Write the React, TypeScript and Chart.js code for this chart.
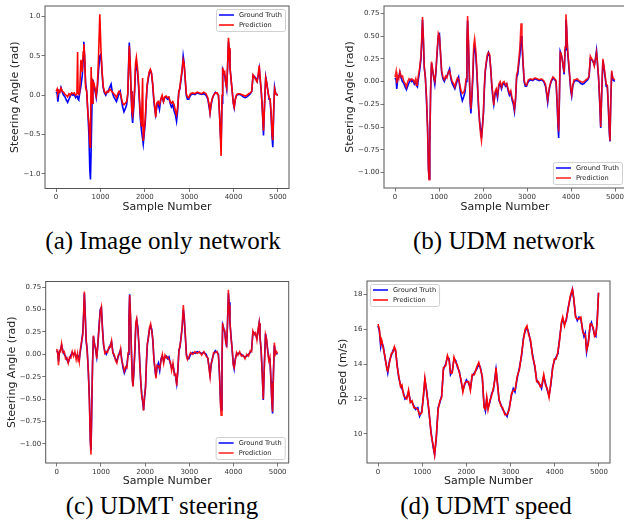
import React, { useEffect, useRef } from "react";
import { Chart, registerables } from "chart.js";

Chart.register(...registerables);

// ---------- data ----------
const X_TICKS = [0, 1000, 2000, 3000, 4000, 5000];
const X_LABELS = ["0", "1000", "2000", "3000", "4000", "5000"];
const STEER_TICKS_A = [-1.0, -0.5, 0.0, 0.5, 1.0];
const STEER_LABELS_A = ["\u22121.0", "\u22120.5", "0.0", "0.5", "1.0"];
const STEER_TICKS_BC = [-1.0, -0.75, -0.5, -0.25, 0.0, 0.25, 0.5, 0.75];
const STEER_LABELS_BC = ["\u22121.00", "\u22120.75", "\u22120.50", "\u22120.25", "0.00", "0.25", "0.50", "0.75"];
const SPEED_TICKS = [10, 12, 14, 16, 18];
const SPEED_LABELS = ["10", "12", "14", "16", "18"];

const STEER_X = [
  0, 25, 40, 60, 85, 110, 140, 170, 200, 230,
  260, 290, 320, 350, 380, 410, 440, 470, 485, 495,
  510, 530, 560, 590, 610, 625, 645, 665, 690, 715,
  740, 760, 775, 790, 810, 830, 855, 880, 905, 930,
  955, 985, 1010, 1035, 1060, 1090, 1120, 1150, 1180, 1210,
  1240, 1270, 1300, 1330, 1360, 1390, 1420, 1445, 1470, 1500,
  1530, 1560, 1590, 1615, 1635, 1650, 1670, 1690, 1710, 1725,
  1745, 1770, 1790, 1810, 1835, 1860, 1880, 1900, 1925, 1950,
  1965, 1985, 2010, 2030, 2050, 2075, 2100, 2125, 2150, 2175,
  2200, 2225, 2245, 2270, 2300, 2330, 2360, 2390, 2420, 2450,
  2480, 2510, 2540, 2570, 2600, 2630, 2660, 2690, 2715, 2740,
  2765, 2790, 2815, 2840, 2865, 2885, 2910, 2935, 2960, 2990,
  3030, 3080, 3130, 3180, 3230, 3280, 3330, 3380, 3420, 3450,
  3470, 3495, 3520, 3550, 3590, 3630, 3660, 3685, 3705, 3720,
  3740, 3755, 3775, 3800, 3825, 3845, 3865, 3885, 3900, 3920,
  3945, 3970, 3995, 4015, 4040, 4070, 4100, 4140, 4180, 4220,
  4260, 4300, 4340, 4380, 4410, 4440, 4470, 4500, 4530, 4555,
  4580, 4600, 4625, 4650, 4675, 4700, 4725, 4750, 4775, 4800,
  4825, 4850, 4870, 4885, 4905, 4925, 4950, 4975, 4995,
];

const STEER_GT = [
  0.04, 0.02, -0.08, 0.02, 0.05, 0.10, 0.04, 0.00, -0.02, -0.06,
  -0.09, -0.05, -0.01, 0.02, 0.00, 0.01, -0.03, -0.01, -0.02, -0.05,
  -0.06, 0.02, 0.12, 0.25, 0.45, 0.68, 0.45, 0.15, 0.05, -0.20,
  -0.50, -0.95, -1.07, -0.70, -0.10, 0.20, 0.12, 0.05, -0.03, 0.10,
  0.30, 0.50, 0.52, 0.30, 0.10, 0.03, 0.00, 0.04, 0.06, 0.10,
  0.14, 0.03, -0.02, -0.05, -0.08, -0.03, 0.02, 0.05, -0.05, -0.15,
  -0.21, -0.17, -0.12, 0.00, 0.40, 0.67, 0.40, 0.05, -0.25, -0.35,
  -0.20, 0.05, 0.33, 0.38, 0.30, 0.10, -0.10, -0.30, -0.45, -0.55,
  -0.62, -0.50, -0.35, -0.10, 0.10, 0.20, 0.28, 0.32, 0.28, 0.15,
  -0.05, -0.18, -0.25, -0.15, -0.10, -0.18, -0.05, -0.02, -0.08, -0.03,
  -0.02, -0.05, -0.03, -0.10, -0.15, -0.12, -0.20, -0.25, -0.33, -0.20,
  0.05, 0.08, 0.20, 0.30, 0.50, 0.42, 0.20, 0.00, -0.05, -0.05,
  0.00, 0.02, 0.01, 0.03, 0.02, 0.01, 0.02, 0.00, -0.05, -0.15,
  -0.23, -0.12, -0.05, 0.00, 0.04, 0.02, 0.00, -0.25, -0.50, -0.62,
  -0.10, 0.33, 0.30, 0.25, 0.15, 0.08, 0.35, 0.68, 0.58, 0.35,
  0.20, 0.05, -0.10, -0.16, -0.05, 0.00, 0.01, 0.01, 0.00, -0.02,
  -0.03, -0.02, 0.00, 0.02, 0.05, 0.25, 0.24, 0.22, 0.18, 0.25,
  0.34, 0.20, 0.05, -0.20, -0.51, -0.10, 0.23, 0.15, 0.05, -0.05,
  -0.05, -0.30, -0.55, -0.66, -0.20, 0.10, 0.02, 0.01, 0.00,
];

const STEER_PRED_A = [
  0.05, 0.08, 0.02, 0.06, 0.04, 0.09, 0.05, 0.04, 0.01, 0.00,
  -0.02, 0.02, 0.00, 0.03, 0.02, 0.03, 0.00, 0.02, 0.55, 0.03,
  0.02, 0.03, 0.45, 0.30, 0.55, 0.65, 0.50, 0.10, 0.05, -0.22,
  -0.35, -0.60, -0.67, 0.36, -0.10, 0.18, 0.15, 0.08, 0.00, 0.12,
  0.45, 1.03, 0.60, 0.32, 0.12, 0.05, 0.02, 0.05, 0.04, 0.08,
  0.06, 0.04, 0.02, 0.00, -0.03, 0.02, 0.05, 0.03, -0.03, -0.10,
  -0.12, -0.10, -0.08, 0.02, 0.35, 0.63, 0.42, 0.05, -0.20, -0.25,
  -0.15, 0.08, 0.40, 0.48, 0.35, 0.15, -0.05, -0.25, -0.40, 0.22,
  -0.58, -0.45, -0.30, -0.08, 0.12, 0.22, 0.30, 0.33, 0.28, 0.16,
  -0.02, -0.15, -0.28, -0.10, -0.08, -0.12, -0.05, 0.00, -0.08, -0.02,
  -0.01, -0.03, -0.02, -0.08, -0.10, -0.08, -0.12, -0.20, -0.25, -0.15,
  0.03, 0.10, 0.22, 0.32, 0.45, 0.40, 0.22, 0.02, -0.02, -0.03,
  0.02, 0.03, 0.02, 0.04, 0.03, 0.02, 0.04, 0.02, -0.03, -0.12,
  -0.22, -0.10, -0.04, 0.00, 0.03, 0.03, 0.00, -0.25, -0.55, -0.77,
  0.00, 0.35, 0.28, 0.30, 0.15, 0.10, 0.35, 0.73, 0.60, 0.35,
  0.20, 0.05, -0.10, -0.15, -0.05, 0.01, 0.02, 0.02, 0.01, 0.00,
  -0.01, 0.00, 0.02, 0.03, 0.05, 0.26, 0.23, 0.20, 0.17, 0.26,
  0.38, 0.22, 0.05, -0.18, -0.45, -0.10, 0.22, 0.15, 0.05, -0.03,
  -0.05, -0.25, -0.50, -0.57, -0.18, 0.08, 0.02, 0.01, 0.00,
];

const STEER_PRED_B = [
  0.05, 0.11, -0.02, 0.06, 0.03, 0.11, 0.05, 0.06, 0.00, -0.02,
  -0.06, 0.00, 0.03, 0.01, 0.03, 0.02, -0.01, 0.03, -0.04, 0.00,
  -0.02, 0.06, 0.15, 0.28, 0.50, 0.71, 0.48, 0.17, 0.04, -0.16,
  -0.52, -0.97, -1.08, -0.72, -0.08, 0.22, 0.14, 0.04, 0.00, 0.12,
  0.32, 0.53, 0.50, 0.31, 0.12, 0.05, 0.02, 0.06, 0.04, 0.10,
  0.12, 0.05, 0.00, -0.02, -0.06, 0.00, 0.04, 0.03, -0.03, -0.10,
  -0.13, -0.12, -0.08, 0.03, 0.45, 0.72, 0.45, 0.08, -0.22, -0.30,
  -0.15, 0.10, 0.40, 0.47, 0.35, 0.14, -0.08, -0.27, -0.47, -0.60,
  -0.65, -0.52, -0.33, -0.06, 0.12, 0.22, 0.30, 0.32, 0.30, 0.14,
  -0.03, -0.15, -0.26, -0.12, -0.08, -0.15, -0.03, 0.00, -0.06, -0.01,
  0.00, -0.04, -0.02, -0.08, -0.13, -0.10, -0.18, -0.22, -0.30, -0.18,
  0.08, 0.12, 0.25, 0.38, 0.64, 0.48, 0.22, 0.02, -0.03, -0.04,
  0.02, 0.03, 0.02, 0.04, 0.03, 0.02, 0.03, 0.01, -0.03, -0.13,
  -0.20, -0.10, -0.04, 0.01, 0.05, 0.03, 0.01, -0.22, -0.45, -0.55,
  -0.08, 0.32, 0.31, 0.24, 0.16, 0.10, 0.38, 0.74, 0.62, 0.38,
  0.22, 0.07, -0.08, -0.14, -0.04, 0.02, 0.02, 0.03, 0.01, 0.00,
  -0.01, 0.00, 0.02, 0.03, 0.06, 0.28, 0.25, 0.23, 0.17, 0.24,
  0.32, 0.22, 0.06, -0.18, -0.50, -0.08, 0.25, 0.17, 0.07, -0.03,
  -0.04, -0.28, -0.52, -0.65, -0.18, 0.12, 0.04, 0.03, 0.02,
];

const STEER_PRED_C = [
  0.06, 0.00, -0.12, 0.04, 0.03, 0.12, 0.02, 0.03, -0.05, -0.04,
  -0.10, -0.03, -0.04, 0.03, -0.02, 0.03, -0.06, 0.01, -0.08, -0.03,
  -0.08, 0.04, 0.14, 0.22, 0.48, 0.70, 0.42, 0.18, 0.02, -0.18,
  -0.55, -0.98, -1.12, -0.65, -0.12, 0.21, 0.10, 0.07, -0.05, 0.12,
  0.28, 0.48, 0.53, 0.27, 0.12, 0.01, 0.03, 0.02, 0.08, 0.08,
  0.15, 0.01, 0.00, -0.07, -0.10, -0.01, 0.00, 0.06, -0.07, -0.12,
  -0.19, -0.14, -0.15, 0.02, 0.38, 0.66, 0.43, 0.02, -0.28, -0.36,
  -0.18, 0.08, 0.36, 0.40, 0.27, 0.12, -0.12, -0.28, -0.48, -0.52,
  -0.63, -0.47, -0.38, -0.07, 0.12, 0.18, 0.30, 0.34, 0.26, 0.17,
  -0.07, -0.16, -0.27, -0.12, -0.13, -0.16, -0.07, 0.00, -0.10, -0.01,
  -0.04, -0.03, -0.06, -0.08, -0.18, -0.10, -0.23, -0.22, -0.35, -0.17,
  0.03, 0.10, 0.18, 0.33, 0.55, 0.40, 0.23, -0.02, -0.06, -0.03,
  0.02, 0.00, 0.03, 0.01, 0.03, -0.01, 0.03, -0.02, -0.04, -0.17,
  -0.25, -0.10, -0.07, 0.02, 0.02, 0.03, -0.02, -0.22, -0.55, -0.68,
  -0.05, 0.35, 0.28, 0.27, 0.13, 0.10, 0.33, 0.72, 0.55, 0.37,
  0.18, 0.07, -0.12, -0.15, -0.07, 0.02, -0.01, 0.03, -0.02, -0.01,
  -0.05, 0.00, -0.02, 0.04, 0.03, 0.26, 0.22, 0.24, 0.16, 0.27,
  0.35, 0.18, 0.07, -0.22, -0.50, -0.12, 0.22, 0.17, 0.03, -0.07,
  -0.03, -0.32, -0.53, -0.64, -0.22, 0.13, 0.00, 0.03, 0.01,
];

const SPEED_X = [
  0, 30, 60, 80, 120, 160, 200, 220, 260, 300,
  340, 370, 400, 430, 470, 510, 540, 580, 610, 650,
  690, 730, 770, 810, 850, 900, 940, 990, 1030, 1060,
  1100, 1150, 1200, 1250, 1280, 1320, 1360, 1400, 1440, 1480,
  1530, 1570, 1610, 1640, 1680, 1720, 1760, 1800, 1840, 1880,
  1920, 1960, 2000, 2050, 2090, 2130, 2180, 2230, 2280, 2320,
  2360, 2400, 2430, 2460, 2490, 2530, 2570, 2610, 2650, 2670,
  2700, 2740, 2780, 2820, 2870, 2920, 2970, 3020, 3060, 3100,
  3150, 3200, 3250, 3290, 3330, 3370, 3410, 3450, 3500, 3550,
  3590, 3630, 3670, 3700, 3750, 3790, 3830, 3870, 3910, 3950,
  3990, 4030, 4070, 4110, 4150, 4180, 4220, 4260, 4300, 4350,
  4400, 4430, 4470, 4510, 4550, 4590, 4630, 4660, 4690, 4720,
  4760, 4800, 4830, 4870, 4900, 4930, 4960, 4990,
];

const SPEED_GT = [
  16.2, 15.9, 15.0, 15.3, 15.0, 14.3, 13.8, 13.5, 14.2, 14.5,
  14.8, 14.9, 14.7, 14.0, 13.2, 12.8, 12.6, 12.3, 12.0, 12.1,
  12.4, 11.9, 11.8, 11.6, 11.4, 11.5, 11.0, 11.3, 12.2, 13.1,
  12.5, 11.3, 10.1, 9.2, 8.8, 9.8, 11.5, 11.8, 12.2, 13.7,
  14.0, 14.4, 14.3, 13.4, 13.6, 14.3, 14.2, 13.8, 13.6, 13.0,
  12.5, 12.8, 13.1, 12.9, 12.6, 13.3, 13.5, 13.7, 14.0, 13.8,
  13.2, 11.6, 11.3, 12.0, 11.5, 11.8, 12.3, 12.5, 13.3, 13.7,
  13.0, 11.9, 11.7, 11.4, 11.2, 11.0, 11.5, 12.2, 12.6, 12.4,
  13.2, 13.8, 14.5, 15.5, 15.9, 16.1, 15.8, 15.3, 14.5, 13.8,
  13.1, 12.9, 12.8, 12.6, 13.3, 12.9, 12.5, 12.2, 12.8, 13.8,
  14.2, 14.4, 14.6, 15.5, 16.3, 16.6, 16.3, 16.5, 17.2, 17.8,
  18.3, 17.7, 16.8, 16.5, 16.7, 16.6, 16.0, 15.6, 15.8, 14.7,
  15.3, 16.2, 16.4, 16.0, 15.7, 15.6, 16.5, 18.1,
];

const SPEED_PRED = [
  16.3, 16.0, 15.2, 15.4, 14.9, 14.4, 13.7, 13.6, 14.1, 14.6,
  14.7, 15.0, 14.8, 13.9, 13.3, 12.7, 12.8, 12.2, 12.1, 12.0,
  12.5, 11.8, 11.9, 11.5, 11.5, 11.4, 11.1, 11.2, 12.3, 13.2,
  12.4, 11.4, 10.0, 9.3, 8.8, 9.9, 11.4, 11.9, 12.1, 13.8,
  13.9, 14.5, 14.2, 13.5, 13.5, 14.4, 14.1, 13.9, 13.5, 13.1,
  12.4, 12.9, 13.0, 13.0, 12.5, 13.4, 13.4, 13.8, 14.1, 13.7,
  13.3, 11.5, 11.4, 12.1, 11.4, 11.9, 12.2, 12.6, 13.2, 13.8,
  12.9, 12.0, 11.6, 11.5, 11.1, 11.1, 11.4, 12.3, 12.5, 12.5,
  13.3, 13.7, 14.6, 15.4, 16.0, 16.2, 15.7, 15.4, 14.4, 13.9,
  13.0, 13.0, 12.7, 12.7, 13.4, 12.8, 12.6, 12.1, 12.9, 13.7,
  14.3, 14.3, 14.7, 15.4, 16.4, 16.7, 16.2, 16.6, 17.1, 17.9,
  18.3, 17.8, 16.7, 16.6, 16.6, 16.7, 15.9, 15.7, 15.7, 14.8,
  15.2, 16.3, 16.3, 16.1, 15.6, 15.7, 16.4, 18.1,
];

// ---------- style ----------
const SANS = '"DejaVu Sans", sans-serif';
const SERIF = '"Liberation Serif", "Times New Roman", serif';
const AXIS_COLOR = "#555";
const TEXT_COLOR = "#222";

const framePlugin = {
  id: "mplFrame",
  afterDatasetsDraw(chart: any) {
    const { ctx, chartArea: a } = chart;
    ctx.save();
    ctx.strokeStyle = AXIS_COLOR;
    ctx.lineWidth = 1;
    ctx.strokeRect(a.left, a.top, a.right - a.left, a.bottom - a.top);
    ctx.restore();
  },
};

const legendPlugin = {
  id: "mplLegend",
  afterDraw(chart: any, _args: any, opts: any) {
    const { ctx, chartArea: a } = chart;
    const fontPx = 6.6;
    ctx.save();
    ctx.font = `${fontPx}px ${SANS}`;
    const labels = chart.data.datasets.map((d: any) => d.label as string);
    const textW = Math.max(...labels.map((l: string) => ctx.measureText(l).width));
    const padX = 2.5;
    const handle = 15;
    const gap = 5;
    const w = padX + handle + gap + textW + padX + 1;
    const h = 22;
    const m = 3.5;
    let x = a.right - m - w;
    let y = a.top + m;
    if (opts.corner === "lr") { x = a.right - m - w; y = a.bottom - m - h; }
    if (opts.corner === "ul") { x = a.left + m; y = a.top + m; }
    ctx.beginPath();
    (ctx as any).roundRect(x, y, w, h, 2);
    ctx.fillStyle = "rgba(255,255,255,0.85)";
    ctx.fill();
    ctx.strokeStyle = "#d0d0d0";
    ctx.lineWidth = 1;
    ctx.stroke();
    chart.data.datasets.forEach((d: any, i: number) => {
      const ry = y + 5.5 + i * 10;
      ctx.beginPath();
      ctx.strokeStyle = d.borderColor;
      ctx.lineWidth = 1.5;
      ctx.moveTo(x + padX, ry);
      ctx.lineTo(x + padX + handle, ry);
      ctx.stroke();
      ctx.fillStyle = TEXT_COLOR;
      ctx.textBaseline = "middle";
      ctx.textAlign = "left";
      ctx.fillText(d.label, x + padX + handle + gap, ry);
    });
    ctx.restore();
  },
};

type PanelProps = {
  left: number; top: number; width: number; height: number;
  area: { l: number; t: number; r: number; b: number };
  yMin: number; yMax: number; yTicks: number[]; yLabels: string[];
  yTitle: string; yTitlePad: number; xTitlePad: number;
  xs: number[]; gt: number[]; pred: number[];
  predColor: string; corner: string;
};

function Panel(p: PanelProps) {
  const ref = useRef<HTMLCanvasElement | null>(null);
  useEffect(() => {
    if (!ref.current) return;
    const tickFont = { family: SANS, size: 7 };
    const titleFont = { family: SANS, size: 11 };
    const chart = new Chart(ref.current, {
      type: "line",
      data: {
        datasets: [
          {
            label: "Ground Truth",
            data: p.xs.map((x, i) => ({ x, y: p.gt[i] })),
            borderColor: "#0000ff",
            borderWidth: 1.6,
            pointRadius: 0,
            tension: 0,
            order: 2,
          },
          {
            label: "Prediction",
            data: p.xs.map((x, i) => ({ x, y: p.pred[i] })),
            borderColor: p.predColor,
            borderWidth: 1.6,
            pointRadius: 0,
            tension: 0,
            order: 1,
          },
        ],
      },
      options: {
        animation: false,
        responsive: false,
        maintainAspectRatio: false,
        events: [],
        layout: { padding: { left: 0, top: p.area.t, right: p.width - p.area.r, bottom: 0 } },
        plugins: {
          legend: { display: false },
          tooltip: { enabled: false },
          mplLegend: { corner: p.corner },
        } as any,
        scales: {
          x: {
            type: "linear",
            min: -250,
            max: 5250,
            afterBuildTicks: (s: any) => { s.ticks = X_TICKS.map((v) => ({ value: v })); },
            afterFit: (s: any) => { s.height = p.height - p.area.b; },
            ticks: {
              autoSkip: false, maxRotation: 0, padding: 1,
              font: tickFont, color: "#333",
              callback: (_v: any, i: number) => X_LABELS[i],
            },
            grid: { display: true, drawOnChartArea: false, drawTicks: true, tickLength: 3.5, color: AXIS_COLOR, lineWidth: 0.8 },
            border: { display: false },
            title: { display: true, text: "Sample Number", font: titleFont, color: TEXT_COLOR, padding: { top: 0, bottom: p.xTitlePad } },
          },
          y: {
            type: "linear",
            position: "left",
            min: p.yMin,
            max: p.yMax,
            afterBuildTicks: (s: any) => { s.ticks = p.yTicks.map((v) => ({ value: v })); },
            afterFit: (s: any) => { s.width = p.area.l; },
            ticks: {
              autoSkip: false, padding: 1,
              font: tickFont, color: "#333",
              callback: (_v: any, i: number) => p.yLabels[i],
            },
            grid: { display: true, drawOnChartArea: false, drawTicks: true, tickLength: 3.5, color: AXIS_COLOR, lineWidth: 0.8 },
            border: { display: false },
            title: { display: true, text: p.yTitle, font: titleFont, color: TEXT_COLOR, padding: { top: p.yTitlePad, bottom: 0 } },
          },
        },
      } as any,
      plugins: [framePlugin, legendPlugin],
    });
    return () => chart.destroy();
  }, []);
  return (
    <canvas
      ref={ref}
      width={p.width}
      height={p.height}
      style={{ position: "absolute", left: p.left, top: p.top, width: p.width, height: p.height }}
    />
  );
}

function Caption({ text, cx, top }: { text: string; cx: number; top: number }) {
  return (
    <div
      style={{
        position: "absolute", left: cx - 170, top, width: 340, textAlign: "center",
        fontFamily: SERIF, fontSize: 25, lineHeight: "25px", color: "#000", whiteSpace: "nowrap",
      }}
    >
      {text}
    </div>
  );
}

export default function App() {
  return (
    <div style={{ position: "absolute", left: 0, top: 0, width: 624, height: 529, overflow: "hidden", background: "#fff" }}>
      <Panel
        left={0} top={0} width={312} height={215}
        area={{ l: 45, t: 6, r: 289, b: 188.5 }}
        yMin={-1.185} yMax={1.135} yTicks={STEER_TICKS_A} yLabels={STEER_LABELS_A}
        yTitle="Steering Angle (rad)" yTitlePad={9} xTitlePad={1.4}
        xs={STEER_X} gt={STEER_GT} pred={STEER_PRED_A} predColor="#ff0000" corner="ur"
      />
      <Panel
        left={312} top={0} width={330} height={215}
        area={{ l: 72, t: 6, r: 314, b: 188 }}
        yMin={-1.171} yMax={0.831} yTicks={STEER_TICKS_BC} yLabels={STEER_LABELS_BC}
        yTitle="Steering Angle (rad)" yTitlePad={31.7} xTitlePad={1.4}
        xs={STEER_X} gt={STEER_GT} pred={STEER_PRED_B} predColor="rgba(255,0,0,0.88)" corner="lr"
      />
      <Panel
        left={0} top={265} width={312} height={225}
        area={{ l: 45.7, t: 16.5, r: 288.7, b: 198 }}
        yMin={-1.212} yMax={0.812} yTicks={STEER_TICKS_BC} yLabels={STEER_LABELS_BC}
        yTitle="Steering Angle (rad)" yTitlePad={5.1} xTitlePad={2.4}
        xs={STEER_X} gt={STEER_GT} pred={STEER_PRED_C} predColor="rgba(255,0,0,0.88)" corner="lr"
      />
      <Panel
        left={312} top={265} width={312} height={225}
        area={{ l: 55, t: 16, r: 298, b: 198 }}
        yMin={8.325} yMax={18.775} yTicks={SPEED_TICKS} yLabels={SPEED_LABELS}
        yTitle="Speed (m/s)" yTitlePad={24.1} xTitlePad={2.4}
        xs={SPEED_X} gt={SPEED_GT} pred={SPEED_PRED} predColor="#ff0000" corner="ul"
      />
      <Caption text="(a) Image only network" cx={163} top={228} />
      <Caption text="(b) UDM network" cx={504} top={228} />
      <Caption text="(c) UDMT steering" cx={162} top={493} />
      <Caption text="(d) UDMT speed" cx={486} top={493} />
    </div>
  );
}
